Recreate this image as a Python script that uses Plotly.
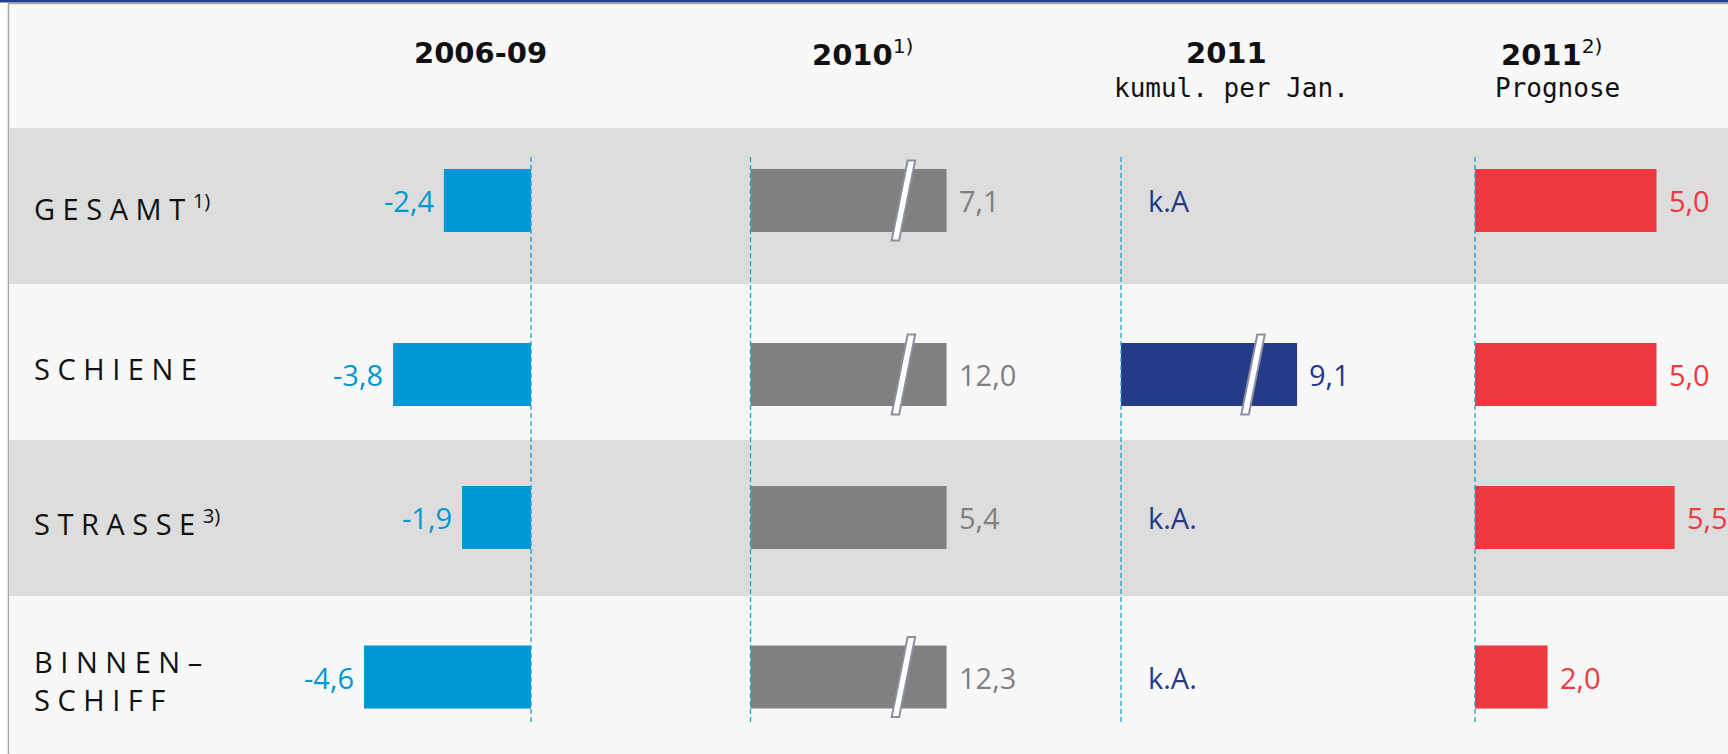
import plotly.graph_objects as go

# ---------------- data ----------------
categories = ["GESAMT", "SCHIENE", "STRASSE", "BINNEN-SCHIFF"]
row_labels = [
    "G E S A M T <sup>1)</sup>",
    "S C H I E N E",
    "S T R A S S E <sup>3)</sup>",
    "B I N N E N –<br>S C H I F F",
]
col_titles = ["<b>2006-09</b>", "<b>2010</b><sup>1)</sup>", "<b>2011</b>", "<b>2011</b><sup>2)</sup>"]
col_subtitles = ["", "", "kumul. per Jan.", "Prognose"]

v_2006_09 = [-2.4, -3.8, -1.9, -4.6]
v_2010 = [7.1, 12.0, 5.4, 12.3]
v_2011_jan = [None, 9.1, None, None]
v_2011_prog = [5.0, 5.0, 5.5, 2.0]
missing_label = ["", "", "", ""]
missing_label_2011_jan = ["k.A", "", "k.A.", "k.A."]

# ---------------- style / layout ----------------
W, H = 1728, 754
S = 36.3                      # pixels per unit
zeros_px = [531, 750.5, 1121, 1475]
dom_px = [(280, 640), (700, 1060), (1080, 1440), (1440, 1728)]
colors = ["#0098d4", "#808080", "#253b87", "#ee3a3f"]
caps = [None, 5.4, 4.85, None]          # broken-bar display length
break_frac = [None, 0.78, 0.75, None]
row_top_px, row_bot_px = 128, 752
ROW_PX = (row_bot_px - row_top_px) / 4
band_colors = ["#dddddd", "#f8f8f8"]
header_x_px = [480, 863, 1226, 1552]
sub_x_px = [480, 863, 1231, 1557]
bar_nudge_px = [-5.5, 12.5, -0.5, 3.0]     # vertical nudge of bars within rows (down = +)
label_nudge_px = [1, 6, 4, 6]
BAR_W = 63 / ROW_PX
NUM_FONT = "Open Sans"

columns = [v_2006_09, v_2010, v_2011_jan, v_2011_prog]
missing = [missing_label, missing_label, missing_label_2011_jan, missing_label]
n = len(categories)
idx = list(range(n))
bar_offsets = [-BAR_W / 2 + p / ROW_PX for p in bar_nudge_px]

fig = go.Figure()
shapes = []
annotations = []

# background frame
shapes.append(dict(type="rect", xref="paper", yref="paper",
                   x0=8.5 / W, x1=1.01, y0=-0.01, y1=1 - 3.5 / H,
                   fillcolor="#f8f8f8", line=dict(color="#a8a8a8", width=1.5), layer="below"))
shapes.append(dict(type="rect", xref="paper", yref="paper",
                   x0=0, x1=1, y0=1 - 2.6 / H, y1=1,
                   fillcolor="#263f8c", line=dict(width=0), layer="below"))
# row bands
for i in idx:
    shapes.append(dict(type="rect", xref="paper", yref="y",
                       x0=9.5 / W, x1=1, y0=i - 0.5, y1=i + 0.5,
                       fillcolor=band_colors[i % 2], line=dict(width=0), layer="below"))

for c, vals in enumerate(columns):
    ax = "x" if c == 0 else f"x{c + 1}"
    axkey = "xaxis" if c == 0 else f"xaxis{c + 1}"
    d0, d1 = dom_px[c]
    z = zeros_px[c]
    fig.update_layout(**{axkey: dict(domain=[d0 / W, d1 / W],
                                     range=[(d0 - z) / S, (d1 - z) / S],
                                     anchor="y", visible=False, fixedrange=True)})
    cap = caps[c]
    disp = [None if v is None else (min(v, cap) if cap is not None else v) for v in vals]
    fig.add_trace(go.Bar(
        x=disp, y=idx, orientation="h", xaxis=ax, yaxis="y",
        width=BAR_W, offset=bar_offsets,
        marker=dict(color=colors[c], line=dict(width=0)),
        hoverinfo="skip", showlegend=False))
    # zero dashed line
    shapes.append(dict(type="line", xref=ax, yref="y", x0=0, x1=0,
                       y0=-0.5 + 0.186, y1=n - 0.5 - 0.186,
                       line=dict(color="#1a9fdc", width=1.3, dash="5px,3px"), layer="above"))
    for i, v in enumerate(vals):
        if v is None:
            if missing[c][i]:
                annotations.append(dict(x=0, y=i, xref=ax, yref="y", text=missing[c][i],
                                        showarrow=False, xanchor="left", xshift=25,
                                        yshift=-bar_nudge_px[i],
                                        font=dict(family=NUM_FONT, size=29, color=colors[c])))
            continue
        txt = f"{v:.1f}".replace(".", ",")
        annotations.append(dict(x=disp[i], y=i, xref=ax, yref="y", text=txt,
                                showarrow=False,
                                xanchor="left" if v >= 0 else "right",
                                xshift=10 if v >= 0 else -8,
                                yshift=-bar_nudge_px[i],
                                font=dict(family=NUM_FONT, size=29, color=colors[c])))
        if cap is not None and v > cap:
            shapes.append(dict(type="path", xref=ax, yref="y",
                               xsizemode="pixel", ysizemode="pixel",
                               xanchor=cap * break_frac[c], yanchor=i + bar_nudge_px[i] / ROW_PX,
                               path="M -11.75 -40 L -4.25 -40 L 11.75 40 L 4.25 40 Z",
                               fillcolor="white", line=dict(color="#8a909e", width=2),
                               layer="above"))
    # headers
    annotations.append(dict(x=header_x_px[c] / W, y=1 - 53 / H, xref="paper", yref="paper",
                            text=col_titles[c], showarrow=False, xanchor="center", yanchor="middle",
                            font=dict(family="DejaVu Sans", size=29, color="#111111")))
    if col_subtitles[c]:
        annotations.append(dict(x=sub_x_px[c] / W, y=1 - 88 / H, xref="paper", yref="paper",
                                text=col_subtitles[c], showarrow=False, xanchor="center",
                                yanchor="middle",
                                font=dict(family="DejaVu Sans Mono", size=26, color="#111111")))

# row labels
for i, lab in enumerate(row_labels):
    annotations.append(dict(x=32 / W, y=i, xref="paper", yref="y", text=lab,
                            showarrow=False, xanchor="left", yanchor="middle", align="left",
                            yshift=-label_nudge_px[i],
                            font=dict(family=NUM_FONT, size=29, color="#111111")))

fig.update_layout(
    width=W, height=H, autosize=False,
    margin=dict(l=0, r=0, t=0, b=0),
    paper_bgcolor="white", plot_bgcolor="rgba(0,0,0,0)",
    yaxis=dict(domain=[(H - row_bot_px) / H, (H - row_top_px) / H],
               range=[n - 0.5, -0.5], visible=False, fixedrange=True),
    shapes=shapes, annotations=annotations, barmode="overlay",
    showlegend=False,
)

fig.write_html("out.html", config={"displayModeBar": False},
               post_script="document.body.style.margin='0';document.body.style.overflow='hidden';")
